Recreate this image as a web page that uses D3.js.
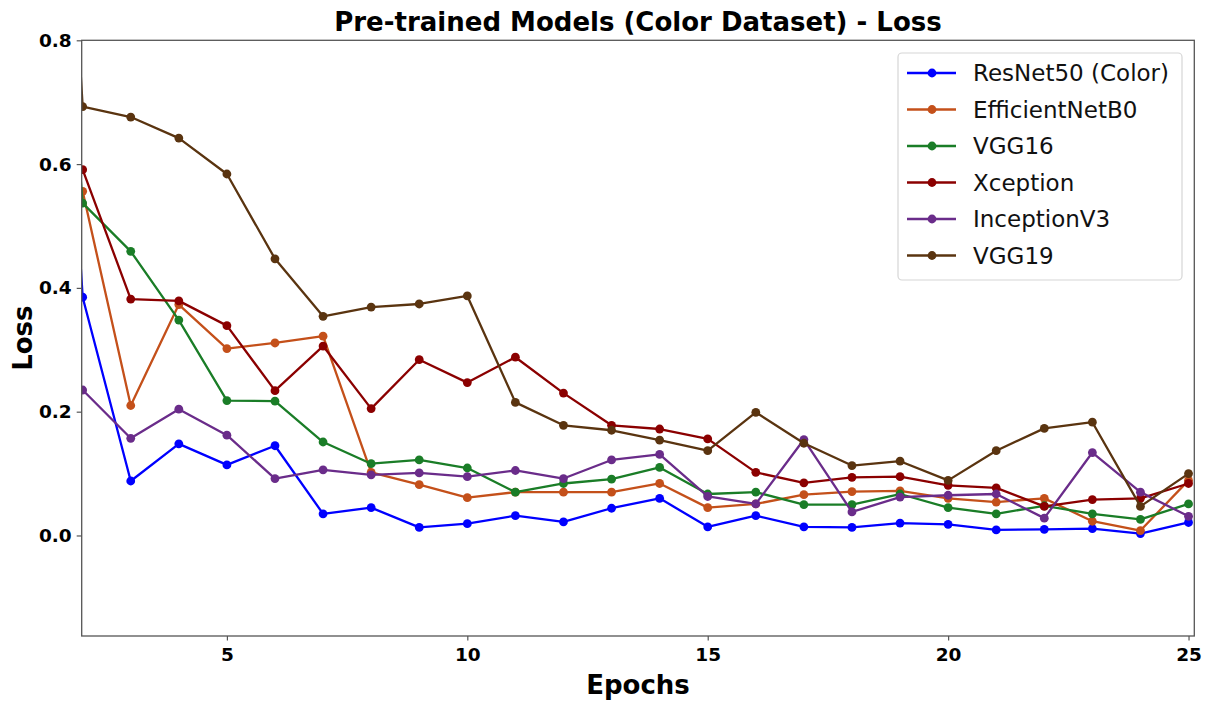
<!DOCTYPE html>
<html>
<head>
<meta charset="utf-8">
<script src="https://cdn.jsdelivr.net/npm/d3@7"></script>
<style>
  html, body { margin: 0; padding: 0; background: #fff; }
  svg { display: block; font-family: "DejaVu Sans", sans-serif; }
</style>
</head>
<body>
<svg id="chart" width="1215" height="701"></svg>
<script>
// ---- data ----
const epochs = [1,2,3,4,5,6,7,8,9,10,11,12,13,14,15,16,17,18,19,20,21,22,23,24,25];
const seriesNames = ["ResNet50 (Color)", "EfficientNetB0", "VGG16", "Xception", "InceptionV3", "VGG19"];
const resnet50 = [1.63, 0.385, 0.088, 0.148, 0.114, 0.145, 0.035, 0.045, 0.013, 0.019, 0.032, 0.022, 0.044, 0.060, 0.014, 0.032, 0.014, 0.013, 0.020, 0.018, 0.009, 0.010, 0.011, 0.003, 0.021];
const efficientnetb0 = [0.62, 0.556, 0.210, 0.373, 0.302, 0.311, 0.322, 0.102, 0.082, 0.061, 0.070, 0.070, 0.070, 0.084, 0.045, 0.051, 0.066, 0.071, 0.072, 0.060, 0.054, 0.060, 0.023, 0.008, 0.089];
const vgg16 = [1.50, 0.537, 0.459, 0.348, 0.218, 0.217, 0.151, 0.116, 0.122, 0.109, 0.070, 0.084, 0.091, 0.110, 0.067, 0.070, 0.050, 0.050, 0.067, 0.045, 0.035, 0.048, 0.035, 0.026, 0.051];
const xception = [0.65, 0.591, 0.382, 0.379, 0.339, 0.234, 0.306, 0.205, 0.284, 0.247, 0.288, 0.230, 0.178, 0.172, 0.156, 0.102, 0.085, 0.094, 0.095, 0.081, 0.077, 0.047, 0.058, 0.060, 0.084];
const inceptionv3 = [0.28, 0.235, 0.157, 0.204, 0.162, 0.092, 0.106, 0.098, 0.101, 0.095, 0.105, 0.092, 0.122, 0.131, 0.063, 0.051, 0.155, 0.038, 0.062, 0.065, 0.067, 0.028, 0.134, 0.070, 0.031];
const vgg19 = [2.00, 0.693, 0.676, 0.642, 0.584, 0.447, 0.354, 0.369, 0.374, 0.387, 0.215, 0.178, 0.170, 0.154, 0.137, 0.199, 0.149, 0.113, 0.120, 0.089, 0.137, 0.173, 0.183, 0.047, 0.100];
const seriesColors = ["#0000ff", "#c4501a", "#1a7d27", "#8b0000", "#6a2c8a", "#5a3410"];
const xTicks = [5, 10, 15, 20, 25];
const yTicks = [0.0, 0.2, 0.4, 0.6, 0.8];
const chartTitle = "Pre-trained Models (Color Dataset) - Loss";
const xLabel = "Epochs";
const yLabel = "Loss";

const allValues = [resnet50, efficientnetb0, vgg16, xception, inceptionv3, vgg19];

// ---- layout ----
const svg = d3.select("#chart");
const pL = 81.7, pR = 1194.3, pT = 40.3, pB = 636;

const x = d3.scaleLinear().domain([1.98, 25.12]).range([pL, pR]);
const y = d3.scaleLinear().domain([-0.1624, 0.8]).range([pB, pT]);

svg.append("defs").append("clipPath").attr("id", "plotclip")
  .append("rect").attr("x", pL).attr("y", pT).attr("width", pR - pL).attr("height", pB - pT);

const plot = svg.append("g").attr("clip-path", "url(#plotclip)");

const line = d3.line().x(d => x(d[0])).y(d => y(d[1]));

allValues.forEach((vals, i) => {
  const pts = epochs.map((e, j) => [e, vals[j]]);
  plot.append("path").datum(pts)
    .attr("d", line)
    .attr("fill", "none")
    .attr("stroke", seriesColors[i])
    .attr("stroke-width", 2.3)
    .attr("stroke-linejoin", "round");
  plot.selectAll(null).data(pts).enter().append("circle")
    .attr("cx", d => x(d[0]))
    .attr("cy", d => y(d[1]))
    .attr("r", 4.4)
    .attr("fill", seriesColors[i]);
});

// frame
svg.append("rect").attr("x", pL).attr("y", pT).attr("width", pR - pL).attr("height", pB - pT)
  .attr("fill", "none").attr("stroke", "#555").attr("stroke-width", 1.3);

// axes
const xAxis = svg.append("g").attr("transform", `translate(0,${pB})`)
  .call(d3.axisBottom(x).tickValues(xTicks).tickFormat(d3.format("d")).tickSize(4.5).tickPadding(7));
const yAxis = svg.append("g").attr("transform", `translate(${pL},0)`)
  .call(d3.axisLeft(y).tickValues(yTicks).tickFormat(d3.format(".1f")).tickSize(5).tickPadding(5));
[xAxis, yAxis].forEach(a => {
  a.select(".domain").remove();
  a.selectAll(".tick line").attr("stroke", "#555").attr("stroke-width", 1.2);
  a.selectAll(".tick text").attr("fill", "#000").style("font-size", "18.5px").style("font-weight", "bold")
    .style("font-family", "'DejaVu Sans', sans-serif");
});

// title & labels
svg.append("text").attr("x", (pL + pR) / 2).attr("y", 31).attr("text-anchor", "middle")
  .style("font-size", "26px").style("font-weight", "bold").text(chartTitle);
svg.append("text").attr("x", (pL + pR) / 2).attr("y", 694).attr("text-anchor", "middle")
  .style("font-size", "26px").style("font-weight", "bold").text(xLabel);
svg.append("text").attr("transform", `translate(32,${(pT + pB) / 2}) rotate(-90)`).attr("text-anchor", "middle")
  .style("font-size", "26px").style("font-weight", "bold").text(yLabel);

// legend
const lg = svg.append("g");
lg.append("rect").attr("x", 898).attr("y", 53).attr("width", 284).attr("height", 227).attr("rx", 4)
  .attr("fill", "#fff").attr("fill-opacity", 0.85).attr("stroke", "#d6d6d6").attr("stroke-width", 1.2);
seriesNames.forEach((name, i) => {
  const yy = 73 + i * 36.5;
  lg.append("line").attr("x1", 907).attr("x2", 956).attr("y1", yy).attr("y2", yy)
    .attr("stroke", seriesColors[i]).attr("stroke-width", 2.3);
  lg.append("circle").attr("cx", 932).attr("cy", yy).attr("r", 4.4).attr("fill", seriesColors[i]);
  lg.append("text").attr("x", 973).attr("y", yy).attr("dy", "0.35em")
    .style("font-size", "23px").attr("fill", "#111").text(name);
});
</script>
</body>
</html>
